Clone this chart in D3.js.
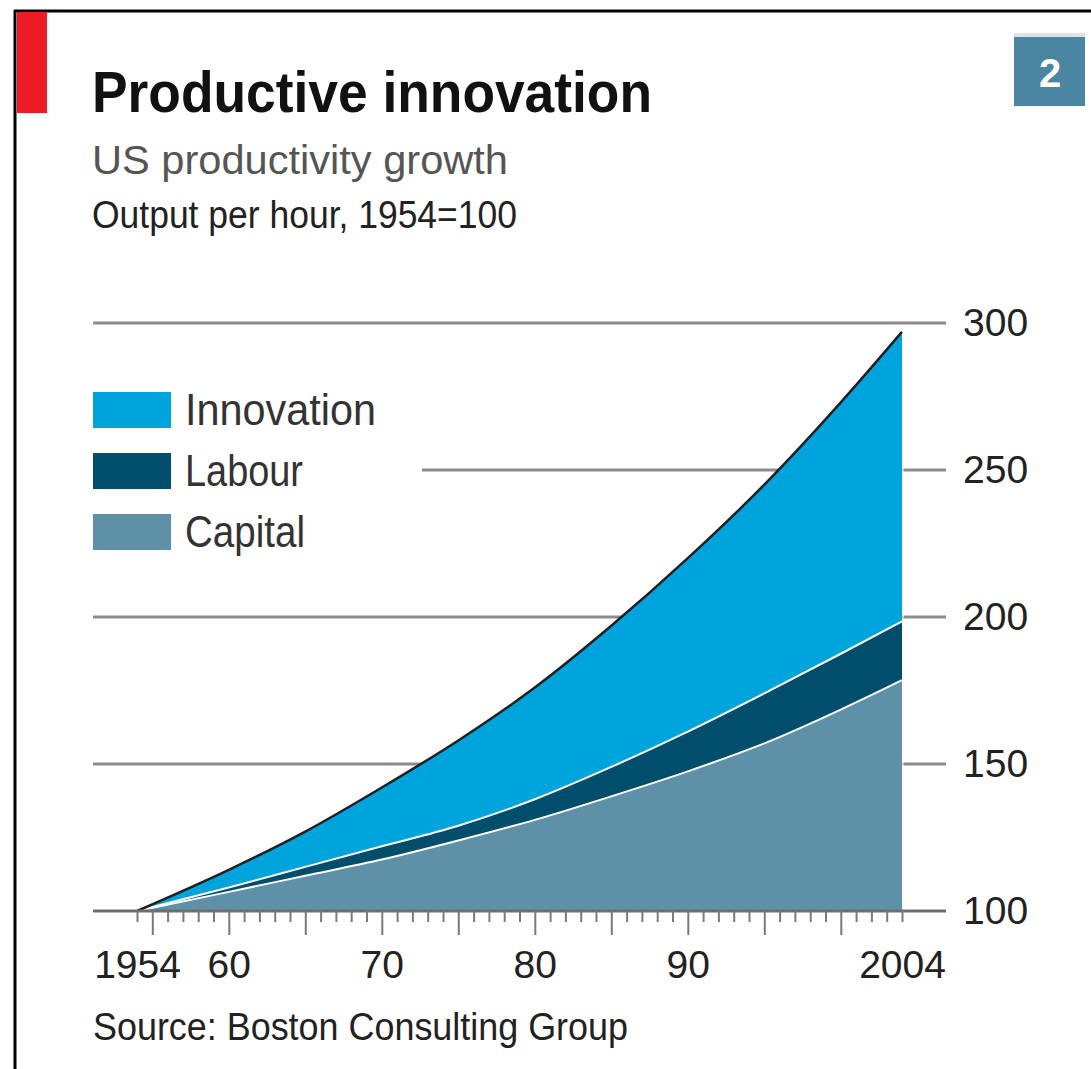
<!DOCTYPE html>
<html>
<head>
<meta charset="utf-8">
<script src="https://cdn.jsdelivr.net/npm/d3@7"></script>
<style>
  html, body { margin: 0; padding: 0; background: #fff; }
  svg { display: block; }
  text { font-family: "Liberation Sans", Arial, sans-serif; }
</style>
</head>
<body>
<svg id="chart" width="1091" height="1069"></svg>
<script>
// values: index points above 1954=100, stacked
const years      = [1954, 1960, 1965, 1970, 1975, 1980, 1985, 1990, 1995, 2000, 2004];
const capital    = [0, 6.5, 12, 17.5, 24, 31, 39, 47.5, 57, 68.5, 78.5];
const labour     = [0, 1.5, 3, 4.5, 5, 7, 10, 13.5, 17, 19, 20];
const innovation = [0, 6, 12, 20, 29, 38, 48, 59, 71, 85.5, 98.5];

const seriesKeys   = ["capital", "labour", "innovation"];
const legendLabels = ["Innovation", "Labour", "Capital"];
const yTicks       = [100, 150, 200, 250, 300];
const xLabelYears  = [1954, 1960, 1970, 1980, 1990, 2004];
const xLabelText   = ["1954", "60", "70", "80", "90", "2004"];

const colors = {innovation: "#00a4dc", labour: "#004e6b", capital: "#5e91a8"};

var svg = d3.select("#chart");

var x = d3.scaleLinear().domain([1954, 2004]).range([137, 902]);
var y = d3.scaleLinear().domain([100, 300]).range([911, 323]);

// frame + red tag
svg.append("line").attr("x1", 14).attr("x2", 1091).attr("y1", 11).attr("y2", 11)
  .attr("stroke", "#000").attr("stroke-width", 3);
svg.append("line").attr("x1", 15).attr("x2", 15).attr("y1", 10).attr("y2", 1069)
  .attr("stroke", "#000").attr("stroke-width", 3);
svg.append("rect").attr("x", 17).attr("y", 12).attr("width", 30).attr("height", 101).attr("fill", "#ed1c24");

// chart number box
svg.append("rect").attr("x", 1014).attr("y", 33).attr("width", 71).attr("height", 73).attr("fill", "#4a86a1");
svg.append("rect").attr("x", 1014).attr("y", 33).attr("width", 71).attr("height", 4).attr("fill", "#dfe3e5");
svg.append("text").attr("x", 1050).attr("y", 87).attr("text-anchor", "middle")
  .attr("font-size", 40).attr("font-weight", "bold").attr("fill", "#fff").text("2");

// titles
svg.append("text").attr("x", 92).attr("y", 112).attr("font-size", 58).attr("font-weight", "bold")
  .attr("fill", "#111").attr("textLength", 560).attr("lengthAdjust", "spacingAndGlyphs")
  .text("Productive innovation");
svg.append("text").attr("x", 92).attr("y", 174).attr("font-size", 40).attr("fill", "#555")
  .attr("textLength", 416).attr("lengthAdjust", "spacingAndGlyphs")
  .text("US productivity growth");
svg.append("text").attr("x", 92).attr("y", 228).attr("font-size", 38).attr("fill", "#222")
  .attr("textLength", 425).attr("lengthAdjust", "spacingAndGlyphs")
  .text("Output per hour, 1954=100");

// gridlines (the 250 line stops short of the legend)
svg.append("g").selectAll("line")
  .data(yTicks.filter(d => d > 100))
  .join("line")
    .attr("x1", d => d == 250 ? 422 : 93)
    .attr("x2", 946)
    .attr("y1", d => y(d)).attr("y2", d => y(d))
    .attr("stroke", "#8c8c8c").attr("stroke-width", 3);

// stacked areas
let table = years.map((yr, i) => ({year: yr, capital: capital[i], labour: labour[i], innovation: innovation[i]}));
let stacked = d3.stack().keys(seriesKeys)(table);

var area = d3.area()
  .curve(d3.curveMonotoneX)
  .x(d => x(d.data.year))
  .y0(d => y(100 + d[0]))
  .y1(d => y(100 + d[1]));

var topLine = d3.line()
  .curve(d3.curveMonotoneX)
  .x(d => x(d.data.year))
  .y(d => y(100 + d[1]));

svg.append("g").selectAll("path")
  .data(stacked)
  .join("path")
    .attr("d", area)
    .attr("fill", d => colors[d.key]);

// right edge highlight
svg.append("line")
  .attr("x1", x(2004) + 1).attr("x2", x(2004) + 1)
  .attr("y1", y(100)).attr("y2", y(100 + stacked[2][stacked[2].length - 1][1]))
  .attr("stroke", "#fff").attr("stroke-opacity", 0.5).attr("stroke-width", 2);

// separators and top outline
svg.append("g").selectAll("path")
  .data(stacked)
  .join("path")
    .attr("d", topLine)
    .attr("fill", "none")
    .attr("stroke", d => d.key == "innovation" ? "#231f20" : "#fff")
    .attr("stroke-width", d => d.key == "innovation" ? 2.5 : 2);

// x axis
svg.append("line").attr("x1", 93).attr("x2", 946).attr("y1", y(100)).attr("y2", y(100))
  .attr("stroke", "#6e6e6e").attr("stroke-width", 3);

var xAxis = d3.axisBottom(x)
  .tickValues(d3.range(1954, 2005))
  .tickSize(10)
  .tickFormat(d => {
    let i = xLabelYears.indexOf(d);
    return i < 0 ? "" : xLabelText[i];
  });

var gx = svg.append("g").attr("transform", `translate(0,${y(100)})`).call(xAxis);
gx.select(".domain").remove();
gx.selectAll(".tick line")
  .attr("stroke", "#7a7a7a").attr("stroke-width", 2)
  .attr("y2", d => d % 5 == 0 ? 24 : 11);
gx.selectAll(".tick text")
  .attr("y", 67).attr("dy", 0)
  .attr("font-size", 39).attr("fill", "#222")
  .attr("font-family", "'Liberation Sans', Arial, sans-serif");

// y axis labels on the right
var yAxis = d3.axisRight(y).tickValues(yTicks).tickSize(0).tickPadding(17);
var gy = svg.append("g").attr("transform", "translate(946,0)").call(yAxis);
gy.select(".domain").remove();
gy.selectAll(".tick text")
  .attr("font-size", 39).attr("fill", "#222")
  .attr("font-family", "'Liberation Sans', Arial, sans-serif");

// legend
var legendKeys = ["innovation", "labour", "capital"];
var legend = svg.append("g").selectAll("g")
  .data(legendKeys)
  .join("g")
    .attr("transform", (d, i) => `translate(93,${392 + i * 61})`);
legend.append("rect")
  .attr("width", 78).attr("height", 36)
  .attr("fill", d => colors[d]);
legend.append("text")
  .attr("x", 92).attr("y", 33)
  .attr("font-size", 44).attr("fill", "#333")
  .attr("textLength", (d, i) => [191, 118, 120][i])
  .attr("lengthAdjust", "spacingAndGlyphs")
  .text((d, i) => legendLabels[i]);

// source
svg.append("text").attr("x", 93).attr("y", 1040).attr("font-size", 38).attr("fill", "#222")
  .attr("textLength", 535).attr("lengthAdjust", "spacingAndGlyphs")
  .text("Source: Boston Consulting Group");
</script>
</body>
</html>
